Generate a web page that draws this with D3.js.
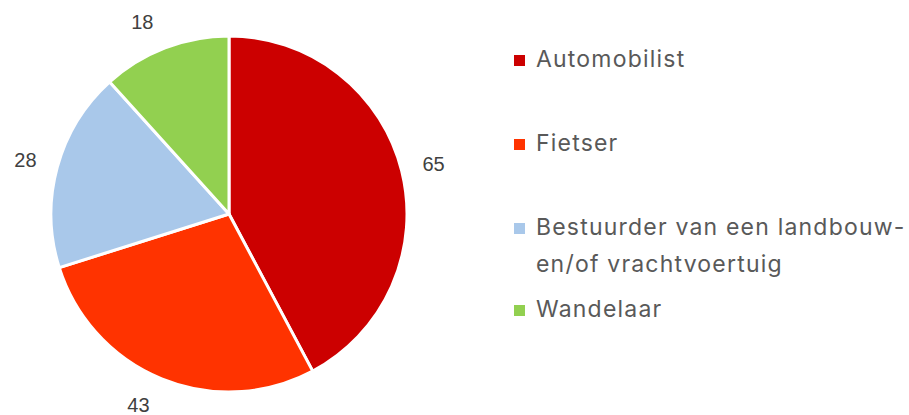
<!DOCTYPE html>
<html>
<head>
<meta charset="utf-8">
<script src="https://cdn.jsdelivr.net/npm/d3@7"></script>
<style>
  body { margin: 0; background: #fff; }
</style>
</head>
<body>
<div id="chart"></div>
<script>
// slice data, clockwise from 12 o'clock
let categories = ["Automobilist", "Fietser", "Bestuurder van een landbouw-en/of vrachtvoertuig", "Wandelaar"];
let values = [65, 43, 28, 18];
let colors = ["#CC0000", "#FF3300", "#A9C8EA", "#92D050"];
// legend text as it wraps in the picture
let legendLines = [["Automobilist"], ["Fietser"], ["Bestuurder van een landbouw-", "en/of vrachtvoertuig"], ["Wandelaar"]];

let width = 909;
let height = 415;
let cx = 229, cy = 214, radius = 178;

let svg = d3.select("#chart")
  .append("svg")
  .attr("width", width).attr("height", height);

let pie = d3.pie().sort(null).value(d => d)(values);
let arc = d3.arc().innerRadius(0).outerRadius(radius);

let g = svg.append("g").attr("transform", "translate(" + cx + "," + cy + ")");

g.selectAll(".slice")
  .data(pie)
  .enter()
  .append("path")
  .attr("class", "slice")
  .attr("d", arc)
  .attr("fill", (d, i) => colors[i])
  .attr("stroke", "#fff")
  .attr("stroke-width", 3)
  .attr("stroke-linejoin", "round");

// data labels just outside each slice (boxes get pushed sideways near the poles)
function mid(d) { return (d.startAngle + d.endAngle) / 2; }
function labelX(d) {
  let s = Math.sin(mid(d)), c = Math.cos(mid(d));
  return 210 * s + Math.sign(s) * 13 * c * c;
}
function labelY(d) {
  return -206 * Math.cos(mid(d)) + 7;
}

g.selectAll(".val")
  .data(pie)
  .enter()
  .append("text")
  .attr("class", "val")
  .attr("x", labelX)
  .attr("y", labelY)
  .attr("text-anchor", "middle")
  .attr("font-family", "Liberation Sans, Arial, sans-serif")
  .attr("font-size", 20)
  .attr("fill", "#404040")
  .text(d => d.data);

// legend
let legendY = [67, 151, 235, 317];
let legend = svg.selectAll(".legend")
  .data(categories)
  .enter()
  .append("g")
  .attr("class", "legend")
  .attr("transform", (d, i) => "translate(514," + legendY[i] + ")");

legend.append("rect")
  .attr("x", 0).attr("y", -12)
  .attr("width", 11).attr("height", 11)
  .attr("fill", (d, i) => colors[i]);

legend.append("text")
  .attr("x", 22).attr("y", 0)
  .attr("font-family", "Inter, Noto Sans, sans-serif")
  .attr("font-size", 23)
  .attr("letter-spacing", 1.2)
  .attr("fill", "#595959")
  .each(function (d, i) {
    let t = d3.select(this);
    legendLines[i].forEach(function (line, j) {
      t.append("tspan").attr("x", 22).attr("dy", j == 0 ? 0 : 37).text(line);
    });
  });
</script>
</body>
</html>
